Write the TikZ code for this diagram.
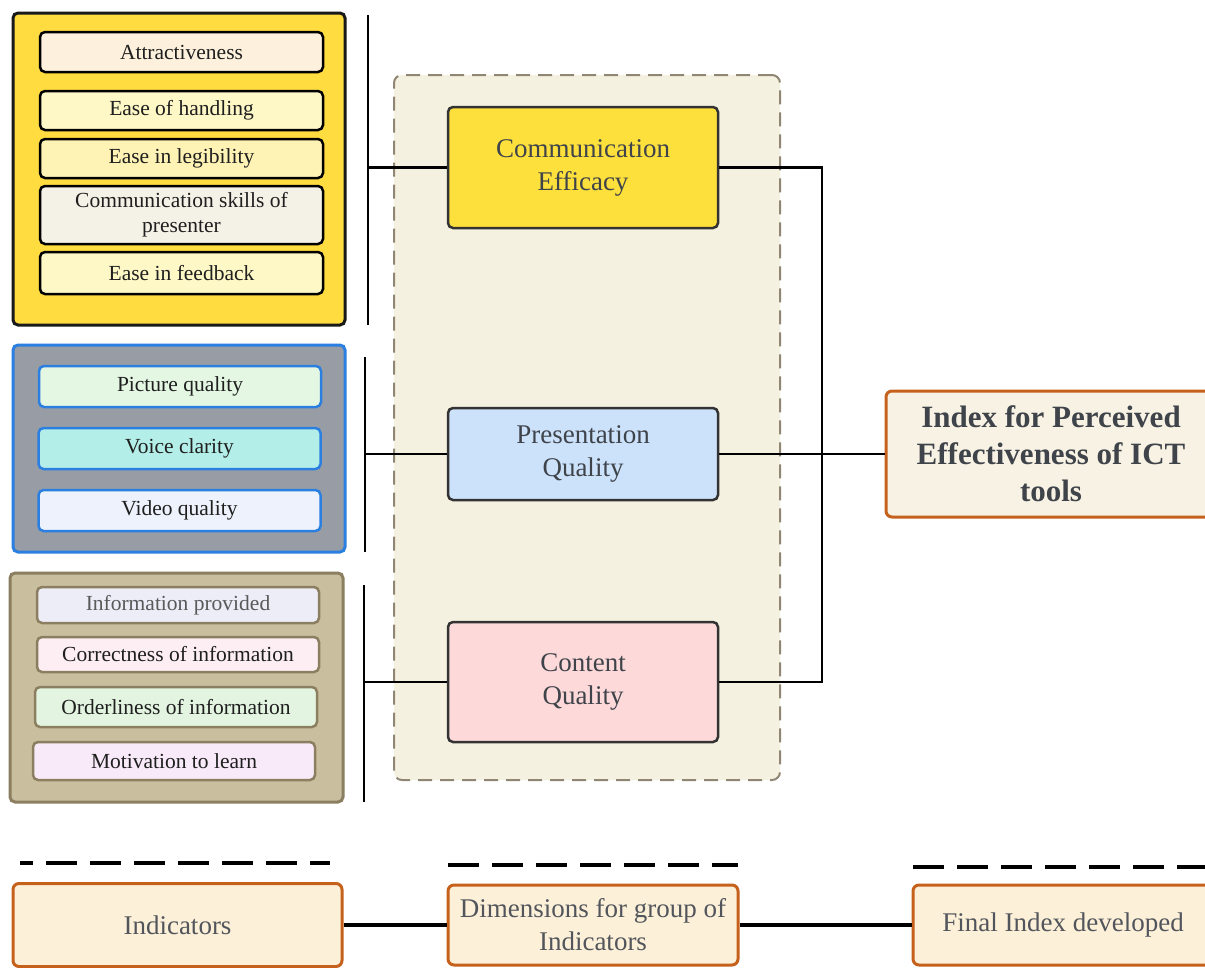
\documentclass[tikz,border=0pt]{standalone}
\usepackage{fontspec}
\setmainfont{Liberation Serif}
\definecolor{cYelOut}{HTML}{FFDC40}
\definecolor{cComm}{HTML}{FDE03C}
\definecolor{cAttr}{HTML}{FDF1DD}
\definecolor{cHand}{HTML}{FEF7C6}
\definecolor{cLeg}{HTML}{FEF3B4}
\definecolor{cSkill}{HTML}{F4F1E6}
\definecolor{cBlueOut}{HTML}{989DA5}
\definecolor{cBlueLine}{HTML}{2B7FE0}
\definecolor{cPic}{HTML}{E3F7E3}
\definecolor{cVoice}{HTML}{B3EFE8}
\definecolor{cVideo}{HTML}{EDF2FC}
\definecolor{cBrOut}{HTML}{C9BF9F}
\definecolor{cBrLine}{HTML}{8C7E60}
\definecolor{cInfo}{HTML}{ECEDF7}
\definecolor{cCorr}{HTML}{FCEEF3}
\definecolor{cOrd}{HTML}{E3F5E1}
\definecolor{cMot}{HTML}{F8EAF8}
\definecolor{cCont}{HTML}{F5F1E1}
\definecolor{cContLine}{HTML}{8F8674}
\definecolor{cPres}{HTML}{CCE2FB}
\definecolor{cContent}{HTML}{FDD9DA}
\definecolor{cIdx}{HTML}{F7F2E3}
\definecolor{cOrange}{HTML}{C6611C}
\definecolor{cBot}{HTML}{FDF0D8}
\definecolor{cTxt}{HTML}{3F434A}
\definecolor{cDark}{HTML}{333333}
\tikzset{
  outerbox/.style={draw, rounded corners=5pt, line width=3pt, inner sep=0pt},
  ind/.style={draw=black, rounded corners=5pt, line width=2.5pt, inner sep=0pt, align=center,
    font=\fontsize{21.5}{25}\selectfont, text=black!88},
  indblue/.style={ind, draw=cBlueLine},
  indbrown/.style={ind, draw=cBrLine},
  dimbox/.style={draw=cDark, rounded corners=5pt, line width=2.5pt, inner sep=0pt, align=center,
    font=\fontsize{27}{33}\selectfont, text=cTxt, minimum width=270pt},
  idxbox/.style={draw=cOrange, fill=cIdx, rounded corners=6pt, line width=3pt, inner sep=0pt, align=center,
    font=\fontsize{31}{37}\selectfont\bfseries, text=cTxt},
  botbox/.style={draw=cOrange, fill=cBot, rounded corners=6pt, line width=3pt, inner sep=0pt, align=center,
    font=\fontsize{27}{33}\selectfont, text=cTxt!90},
  conn/.style={line width=2.5pt, draw=black},
  bar/.style={line width=2.5pt, draw=black},
  botconn/.style={line width=4pt, draw=black},
  dashln/.style={line width=4pt, draw=black, dash pattern=on 31pt off 13pt},
}
\begin{document}
\begin{tikzpicture}[x=1pt, y=-1pt]
\useasboundingbox[fill=white] (0,0) rectangle (1205,967);

% ---------- left groups ----------
\node[outerbox, draw=black!90, fill=cYelOut, minimum width=332pt, minimum height=312pt] (g1) at (179,169) {};
\node[ind, fill=cAttr,  minimum width=283pt, minimum height=40pt] (attr) at (181.5,52) {Attractiveness};
\node[ind, fill=cHand,  minimum width=283pt, minimum height=39pt] (hand) at (181.5,110.5) {Ease of handling};
\node[ind, fill=cLeg,   minimum width=283pt, minimum height=39pt] (leg)  at (181.5,158.5) {Ease in legibility};
\node[ind, fill=cSkill, minimum width=283pt, minimum height=58pt] (skill) at (181.5,215) {Communication skills of\\presenter};
\node[ind, fill=cHand,  minimum width=283pt, minimum height=42pt] (feed) at (181.5,273) {Ease in feedback};

\node[outerbox, draw=cBlueLine, fill=cBlueOut, minimum width=332pt, minimum height=207pt] (g2) at (179,448.5) {};
\node[indblue, fill=cPic,   minimum width=282pt, minimum height=41pt] (pic)   at (180,386.5) {Picture quality};
\node[indblue, fill=cVoice, minimum width=282pt, minimum height=41pt] (voice) at (179.5,448.5) {Voice clarity};
\node[indblue, fill=cVideo, minimum width=282pt, minimum height=41pt] (video) at (179.5,510.5) {Video quality};

\node[outerbox, draw=cBrLine, fill=cBrOut, minimum width=333pt, minimum height=229pt] (g3) at (176.5,687.5) {};
\node[indbrown, fill=cInfo, text=black!65, minimum width=282pt, minimum height=36pt] (info) at (178,605) {Information provided};
\node[indbrown, fill=cCorr, minimum width=282pt, minimum height=35pt] (corr) at (178,654.5) {Correctness of information};
\node[indbrown, fill=cOrd,  minimum width=282pt, minimum height=40pt] (ord)  at (176,707) {Orderliness of information};
\node[indbrown, fill=cMot,  minimum width=282pt, minimum height=38pt] (mot)  at (174,761) {Motivation to learn};

% ---------- dimensions ----------
\node[draw=cContLine, fill=cCont, line width=2pt, dash pattern=on 14pt off 8pt, rounded corners=8pt,
      minimum width=386pt, minimum height=705pt, inner sep=0pt] (dimgroup) at (587,427.5) {};
\node[dimbox, fill=cComm,    minimum height=121pt] (comm) at (583,167.5) {Communication\\Efficacy};
\node[dimbox, fill=cPres,    minimum height=92pt]  (pres) at (583,454) {Presentation\\Quality};
\node[dimbox, fill=cContent, minimum height=120pt] (cont) at (583,682) {Content\\Quality};

% ---------- index ----------
\node[idxbox, minimum width=330pt, minimum height=126pt] (index) at (1051,454)
  {Index for Perceived\\Effectiveness of ICT\\tools};

% ---------- bars and connectors ----------
\coordinate (b1t) at (368,15);  \coordinate (b1b) at (368,325);
\coordinate (b2t) at (365,357); \coordinate (b2b) at (365,552);
\coordinate (b3t) at (364,585); \coordinate (b3b) at (364,802);
\draw[bar] (b1t) -- (b1b);
\draw[bar] (b2t) -- (b2b);
\draw[bar] (b3t) -- (b3b);
\draw[conn] (b1t |- comm.west) -- (comm.west);
\draw[conn] (b2t |- pres.west) -- (pres.west);
\draw[conn] (b3t |- cont.west) -- (cont.west);

\coordinate (bk) at (822,454);
\draw[conn] (comm.east) -| (bk);
\draw[conn] (cont.east) -| (bk);
\draw[conn] (pres.east) -- (index.west);

% ---------- legend row ----------
\coordinate (d1a) at (20,863);  \coordinate (d1b) at (330,863);
\coordinate (d2a) at (448,865); \coordinate (d2b) at (738,865);
\coordinate (d3a) at (913,867); \coordinate (d3b) at (1210,867);
\draw[dashln, dash phase=18pt] (d1a) -- (d1b);
\draw[dashln] (d2a) -- (d2b);
\draw[dashln] (d3a) -- (d3b);

\node[botbox, minimum width=329pt, minimum height=83pt] (lind) at (177.5,925) {Indicators};
\node[botbox, minimum width=290pt, minimum height=80pt] (ldim) at (593,925) {Dimensions for group of\\Indicators};
\node[botbox, minimum width=300pt, minimum height=80pt] (lfin) at (1063,925) {Final Index developed};
\draw[botconn] (lind.east) -- (ldim.west);
\draw[botconn] (ldim.east) -- (lfin.west);
\end{tikzpicture}
\end{document}
